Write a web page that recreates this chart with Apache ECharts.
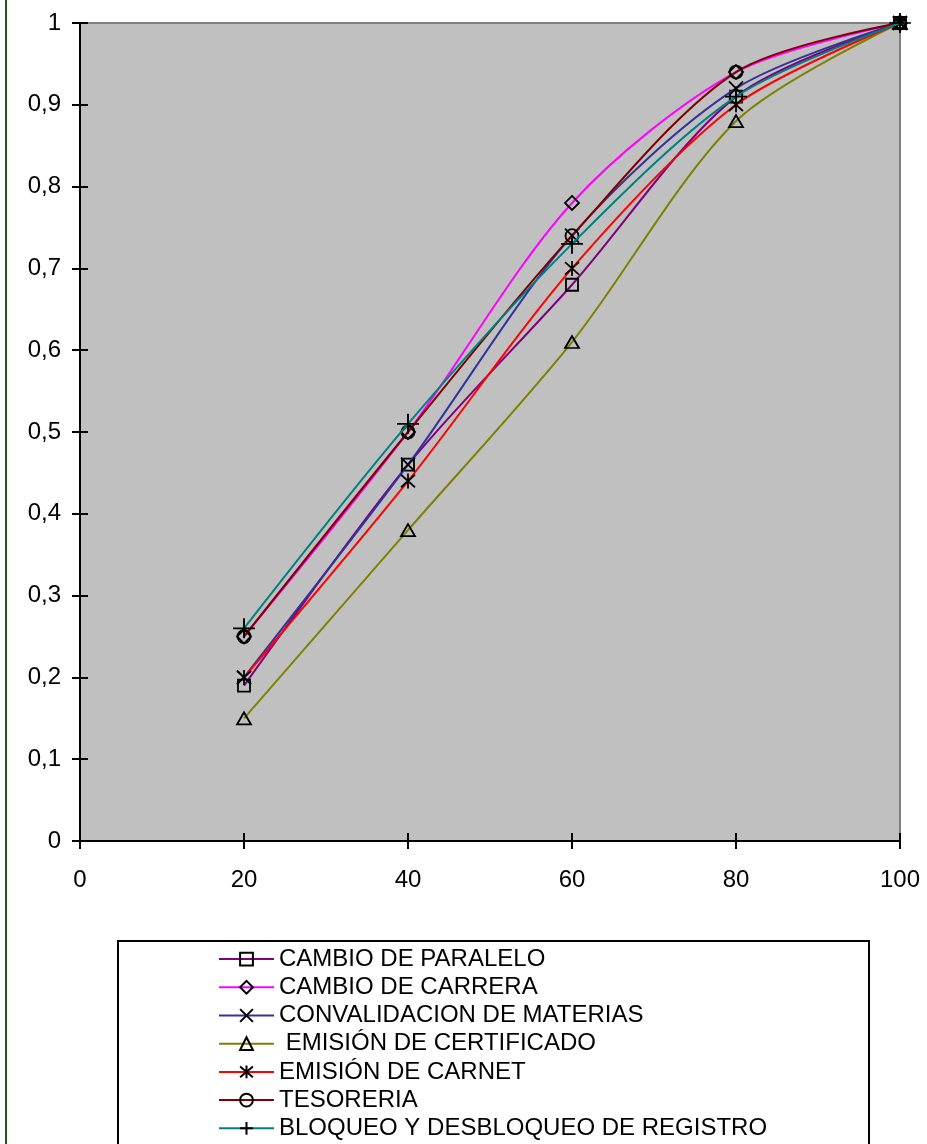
<!DOCTYPE html>
<html>
<head>
<meta charset="utf-8">
<script src="https://cdn.jsdelivr.net/npm/echarts@6/dist/echarts.min.js"></script>
<style>
html,body{margin:0;padding:0;background:#fff;}
#chart{width:927px;height:1144px;}
</style>
</head>
<body>
<div id="chart"></div>
<script>
// ---- data ----
const xValues = [20, 40, 60, 80, 100];
const seriesNames = [
  'CAMBIO DE PARALELO',
  'CAMBIO DE CARRERA',
  'CONVALIDACION DE MATERIAS',
  ' EMISIÓN DE CERTIFICADO',
  'EMISIÓN DE CARNET',
  'TESORERIA',
  'BLOQUEO Y DESBLOQUEO DE REGISTRO'
];
const cambioParalelo   = [0.19, 0.46, 0.68, 0.91, 1];
const cambioCarrera    = [0.25, 0.50, 0.78, 0.94, 1];
const convalidacion    = [0.20, 0.46, 0.74, 0.92, 1];
const emisionCert      = [0.15, 0.38, 0.61, 0.88, 1];
const emisionCarnet    = [0.20, 0.44, 0.70, 0.90, 1];
const tesoreria        = [0.25, 0.50, 0.74, 0.94, 1];
const bloqueo          = [0.26, 0.51, 0.73, 0.91, 1];
const seriesValues = [cambioParalelo, cambioCarrera, convalidacion, emisionCert, emisionCarnet, tesoreria, bloqueo];

// ---- styles ----
const colors = ['#800080', '#FF00FF', '#333399', '#808000', '#FF0000', '#800000', '#008080'];
const symbols = [
  'rect',
  'diamond',
  'path://M0,0L10,10M10,0L0,10',
  'triangle',
  'path://M0,0L10,10M10,0L0,10M5,-1L5,11',
  'circle',
  'path://M0,5L10,5M5,0L5,10'
];
const symbolSizes = [[12, 12], [14, 14], [14, 14], [14, 12], [14, 15], [13, 13], [22, 20]];

const series = seriesNames.map((name, i) => ({
  name: name,
  type: 'line',
  smooth: 0.3,
  data: xValues.map((x, j) => [x, seriesValues[i][j]]),
  symbol: symbols[i],
  symbolSize: symbolSizes[i],
  showAllSymbol: true,
  lineStyle: { color: colors[i], width: 2 },
  itemStyle: { color: 'rgba(0,0,0,0)', borderColor: '#000', borderWidth: 1.8 },
  z: 3 + i
}));

const chart = echarts.init(document.getElementById('chart'), null, { renderer: 'canvas' });
const font = 'Liberation Sans, Arial, sans-serif';
const fmtY = v => String(Math.round(v * 10) / 10).replace('.', ',');

chart.setOption({
  animation: false,
  backgroundColor: '#fff',
  textStyle: { fontFamily: font },
  grid: {
    left: 80, right: 27, top: 23, bottom: 303,
    show: true, backgroundColor: '#C0C0C0', borderColor: '#808080', borderWidth: 2
  },
  xAxis: [{
    type: 'value', min: 0, max: 100, interval: 20,
    axisLine: { show: true, onZero: false, lineStyle: { color: '#000', width: 2 } },
    axisTick: { show: true, length: 8, lineStyle: { color: '#000', width: 2 } },
    axisLabel: { color: '#000', fontSize: 24, fontFamily: font, margin: 27 },
    splitLine: { show: false }
  }, {
    type: 'value', min: 0, max: 100, interval: 20, position: 'bottom',
    axisLine: { show: false },
    axisTick: { show: true, inside: true, length: 8, lineStyle: { color: '#000', width: 2 } },
    axisLabel: { show: false },
    splitLine: { show: false }
  }],
  yAxis: [{
    type: 'value', min: 0, max: 1, interval: 0.1,
    axisLine: { show: true, onZero: false, lineStyle: { color: '#000', width: 2 } },
    axisTick: { show: true, length: 8, lineStyle: { color: '#000', width: 2 } },
    axisLabel: { color: '#000', fontSize: 24, fontFamily: font, margin: 19, formatter: fmtY },
    splitLine: { show: false }
  }, {
    type: 'value', min: 0, max: 1, interval: 0.1, position: 'left', offset: 0,
    axisLine: { show: false },
    axisTick: { show: true, inside: true, length: 8, lineStyle: { color: '#000', width: 2 } },
    axisLabel: { show: false },
    splitLine: { show: false }
  }],
  legend: {
    orient: 'vertical',
    left: 218, top: 945,
    padding: 0,
    itemWidth: 55, itemHeight: 16, itemGap: 0,
    selectedMode: false,
    textStyle: { color: '#000', fontSize: 24, fontFamily: font, lineHeight: 28.2 },
    data: seriesNames
  },
  graphic: [
    { type: 'rect', shape: { x: 118, y: 941, width: 751, height: 400 },
      style: { fill: 'none', stroke: '#000', lineWidth: 2 }, z: 0 },
    { type: 'line', shape: { x1: 6, y1: 0, x2: 6, y2: 1144 },
      style: { stroke: '#1E5A1E', lineWidth: 2 }, z: 0 }
  ],
  series: series
});
</script>
</body>
</html>
